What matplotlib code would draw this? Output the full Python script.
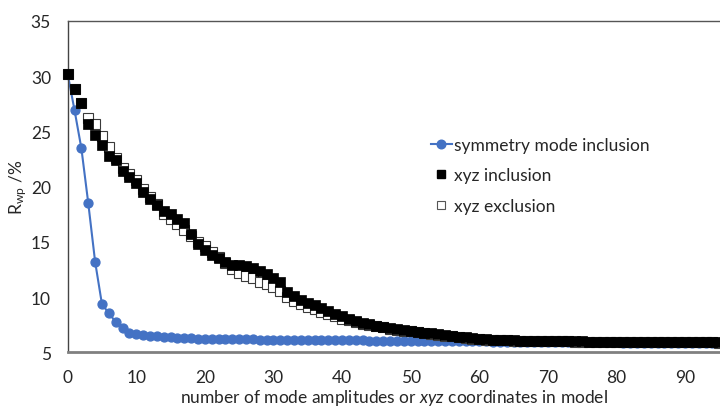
import matplotlib
matplotlib.use("Agg")
import matplotlib.pyplot as plt
from matplotlib.lines import Line2D

plt.rcParams['font.family'] = ['Lato', 'DejaVu Sans']
plt.rcParams['mathtext.fontset'] = 'custom'
plt.rcParams['mathtext.rm'] = 'Lato'
plt.rcParams['mathtext.it'] = 'Lato:italic'

# R_wp (%) against number of refined parameters
n_params = list(range(96))

sym_mode = [30.2, 26.9, 23.45, 18.5, 13.2, 9.35, 8.55, 7.75, 7.25, 6.8,
            6.66, 6.58, 6.53, 6.47, 6.4, 6.35, 6.32, 6.29, 6.27, 6.25,
            6.23, 6.22, 6.21, 6.2, 6.19, 6.18, 6.17, 6.17, 6.16, 6.15,
            6.15, 6.14, 6.13, 6.13, 6.12, 6.12, 6.11, 6.11, 6.1, 6.1,
            6.09, 6.09, 6.08, 6.08, 6.07, 6.07, 6.06, 6.06, 6.05, 6.05,
            6.04, 6.04, 6.03, 6.03, 6.02, 6.02, 6.01, 6.01, 6.0, 6.0,
            5.99, 5.99, 5.98, 5.98, 5.97, 5.97, 5.96, 5.96, 5.95, 5.95,
            5.94, 5.94, 5.93, 5.93, 5.92, 5.92, 5.91, 5.91, 5.9, 5.9,
            5.9, 5.89, 5.89, 5.89, 5.89, 5.88, 5.88, 5.88, 5.88, 5.88,
            5.87, 5.87, 5.87, 5.87, 5.87, 5.87]

xyz_incl = [30.2, 28.8, 27.6, 25.65, 24.65, 23.75, 22.8, 22.4, 21.4, 20.9,
            20.3, 19.5, 18.9, 18.3, 17.8, 17.55, 17.1, 16.7, 15.7, 14.8,
            14.3, 13.8, 13.55, 13.2, 12.95, 12.9, 12.8, 12.6, 12.4, 12.1,
            11.7, 11.4, 10.5, 10.1, 9.75, 9.5, 9.25, 9.05, 8.75, 8.5,
            8.25, 8.05, 7.85, 7.7, 7.55, 7.42, 7.3, 7.2, 7.1, 7.02,
            6.95, 6.87, 6.8, 6.72, 6.65, 6.57, 6.5, 6.42, 6.35, 6.28,
            6.22, 6.18, 6.15, 6.12, 6.1, 6.08, 6.06, 6.05, 6.04, 6.03,
            6.02, 6.01, 6.0, 6.0, 5.99, 5.99, 5.98, 5.98, 5.97, 5.97,
            5.96, 5.96, 5.95, 5.95, 5.94, 5.94, 5.93, 5.93, 5.93, 5.92,
            5.92, 5.92, 5.91, 5.91, 5.91, 5.9]

xyz_excl = [30.2, 28.8, 27.6, 26.2, 25.7, 24.6, 23.55, 22.6, 21.7, 21.1,
            20.6, 19.8, 19.1, 18.4, 17.5, 17.1, 16.6, 16.1, 15.5, 15.0,
            14.6, 14.1, 13.6, 13.1, 12.5, 12.2, 11.95, 11.75, 11.4, 11.2,
            10.9, 10.6, 10.0, 9.65, 9.35, 9.1, 8.9, 8.65, 8.45, 8.25,
            8.05, 7.9, 7.75, 7.6, 7.5, 7.38, 7.26, 7.16, 7.06, 6.98,
            6.91, 6.83, 6.76, 6.68, 6.61, 6.53, 6.46, 6.38, 6.31, 6.25,
            6.2, 6.16, 6.13, 6.1, 6.08, 6.06, 6.05, 6.04, 6.03, 6.02,
            6.01, 6.0, 5.99, 5.99, 5.98, 5.98, 5.97, 5.97, 5.96, 5.96,
            5.95, 5.95, 5.94, 5.94, 5.93, 5.93, 5.92, 5.92, 5.92, 5.91,
            5.91, 5.91, 5.9, 5.9, 5.9, 5.89]

blue = '#4472C4'
txt = '#262626'
fs = 12.5

fig = plt.figure(figsize=(7.2, 4.1), dpi=100)
ax = fig.add_axes([0.094, 0.138, 0.906, 0.809])

ax.plot(n_params, sym_mode, color=blue, lw=1.5, marker='o', ms=6.4,
        mec=blue, mfc=blue, zorder=2, clip_on=False)
ax.plot(n_params, xyz_excl, ls='none', marker='s', ms=7.2, mfc='white',
        mec='#3a3a3a', mew=0.8, zorder=3, clip_on=False)
ax.plot(n_params, xyz_incl, ls='none', marker='s', ms=7.2, mfc='black',
        mec='black', mew=0.5, zorder=4, clip_on=False)

ax.set_xlim(0, 95.1)
ax.set_ylim(5, 35)
ax.set_xticks(range(0, 100, 10))
ax.set_yticks(range(5, 40, 5))
ax.tick_params(length=0, labelsize=fs, colors=txt)
ax.tick_params(axis='y', pad=12)
ax.tick_params(axis='x', pad=12)

ax.spines['right'].set_visible(False)
ax.spines['left'].set_color('#444444')
ax.spines['left'].set_linewidth(1.0)
ax.spines['top'].set_color('#555555')
ax.spines['top'].set_linewidth(1.0)
ax.spines['bottom'].set_color('#808080')
ax.spines['bottom'].set_linewidth(2.0)

ax.set_xlabel(r'number of mode amplitudes or $\it{xyz}$ coordinates in model',
              fontsize=fs, color=txt)
ax.xaxis.set_label_coords(0.5, -0.104)
ax.set_ylabel(r'R$_{\rm wp}$ /%', fontsize=fs, color=txt)
ax.yaxis.set_label_coords(-0.06, 0.5)

handles = [
    Line2D([], [], color=blue, lw=1.5, marker='o', ms=6.2, mfc=blue, mec=blue),
    Line2D([], [], ls='none', marker='s', ms=5.3, mfc='black', mec='black'),
    Line2D([], [], ls='none', marker='s', ms=5.3, mfc='white', mec='#555555', mew=0.8),
]
labels = ['symmetry mode inclusion', 'xyz inclusion', 'xyz exclusion']
leg = ax.legend(handles, labels, loc='upper left',
                bbox_to_anchor=(431 / 720, 1 - 138 / 410),
                bbox_transform=fig.transFigure, frameon=False,
                fontsize=fs, handlelength=1.2, handletextpad=0.15,
                labelspacing=0.83, borderpad=0, borderaxespad=0)
for t in leg.get_texts():
    t.set_color(txt)

fig.savefig('out.png', dpi=100)
